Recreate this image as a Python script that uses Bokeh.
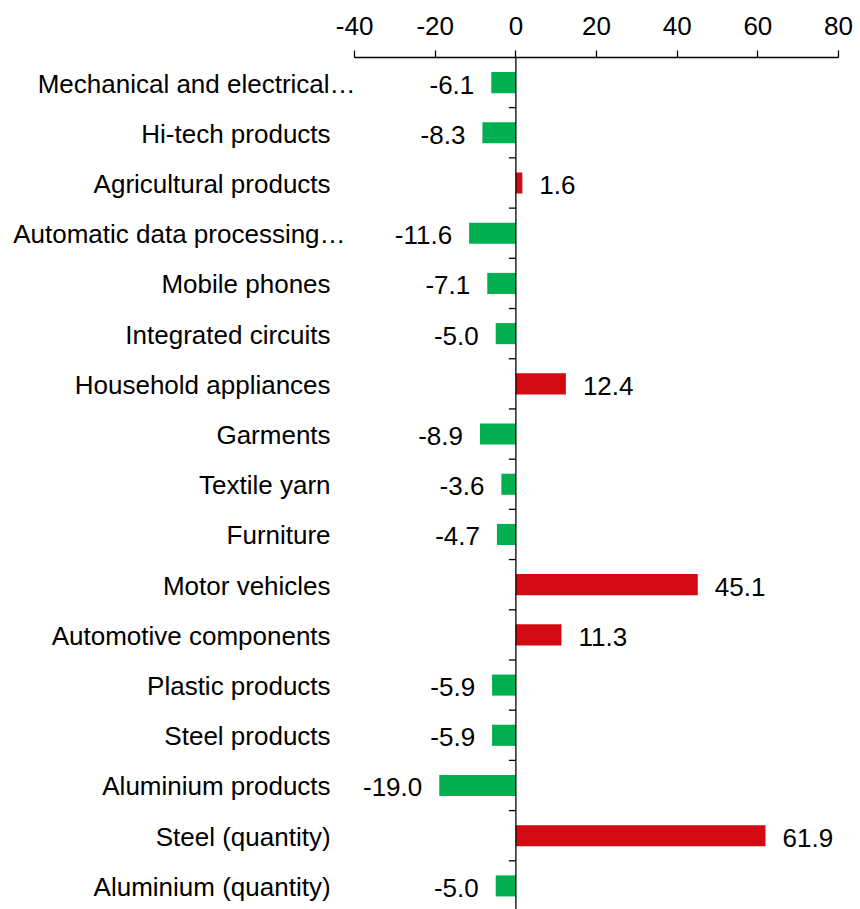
from bokeh.plotting import figure
from bokeh.models import Range1d, LinearAxis, FixedTicker, Span, ColumnDataSource
from bokeh.core.properties import value
from bokeh.embed import file_html
from bokeh.resources import INLINE
import math

categories = [
    "Mechanical and electrical…",
    "Hi-tech products",
    "Agricultural products",
    "Automatic data processing…",
    "Mobile phones",
    "Integrated circuits",
    "Household appliances",
    "Garments",
    "Textile yarn",
    "Furniture",
    "Motor vehicles",
    "Automotive components",
    "Plastic products",
    "Steel products",
    "Aluminium products",
    "Steel (quantity)",
    "Aluminium (quantity)",
]
values = [-6.1, -8.3, 1.6, -11.6, -7.1, -5.0, 12.4, -8.9, -3.6, -4.7,
          45.1, 11.3, -5.9, -5.9, -19.0, 61.9, -5.0]
x_ticks = [-40, -20, 0, 20, 40, 60, 80]
x_tick_labels = ["-40", "-20", "0", "20", "40", "60", "80"]

FONT = "Liberation Sans"
FS = "26px"
POS = "#D20A11"
NEG = "#00B050"
# truncated labels overflow their slot to the right in the original
overflow = {"Mechanical and electrical…": 25, "Automatic data processing…": 15}

n = len(categories)
idx = list(range(n))
colors = [POS if v > 0 else NEG for v in values]
labels = [f"{v:.1f}" for v in values]
offs = [17 if v > 0 else -17 for v in values]
aligns = ["left" if v > 0 else "right" for v in values]
cat_offs = [-24 + overflow.get(c, 0) for c in categories]

src = ColumnDataSource(dict(y=idx, v=values, c=colors, lab=labels, off=offs,
                            al=aligns, cat=categories, coff=cat_offs,
                            cx=[x_ticks[0]] * n))

p = figure(width=860, height=909,
           x_range=Range1d(-127.8, x_ticks[-1]),
           y_range=Range1d(16.47, -0.5),
           x_axis_location=None, y_axis_location=None,
           output_backend="svg", toolbar_location=None,
           min_border_left=0, min_border_right=22,
           min_border_top=57, min_border_bottom=0)
p.outline_line_color = None
p.grid.visible = False
p.background_fill_color = "white"

xa = LinearAxis(ticker=FixedTicker(ticks=x_ticks), bounds=(x_ticks[0], x_ticks[-1]))
xa.major_label_overrides = {t: l for t, l in zip(x_ticks, x_tick_labels)}
xa.axis_line_color = "black"
xa.axis_line_width = 1.3
xa.major_tick_line_color = "black"
xa.major_tick_line_width = 1.3
xa.major_tick_out = 7
xa.major_tick_in = 0
xa.minor_tick_line_color = None
xa.major_label_text_font = FONT
xa.major_label_text_font_size = FS
xa.major_label_text_color = "black"
xa.major_label_standoff = 16
p.add_layout(xa, "above")

# bars
p.hbar(y="y", left=0, right="v", height=0.42, fill_color="c", line_color=None, source=src)

# vertical zero axis with category boundary ticks
p.add_layout(Span(location=0, dimension="height", line_color="black", line_width=1.3))
bounds = [i + 0.5 for i in range(n)]
p.ray(x=[0] * len(bounds), y=bounds, length=7, length_units="screen",
      angle=math.pi, line_color="black", line_width=1.3)

# value labels
p.text(x="v", y="y", text="lab", x_offset="off", y_offset=2, text_align="al",
       text_baseline="middle", text_font=value(FONT), text_font_size=FS,
       text_color="black", source=src)

# category labels
p.text(x="cx", y="y", text="cat", x_offset="coff", y_offset=1, text_align="right",
       text_baseline="middle", text_font=value(FONT), text_font_size=FS,
       text_color="black", source=src)

open("out.html", "w").write(file_html(p, INLINE))
